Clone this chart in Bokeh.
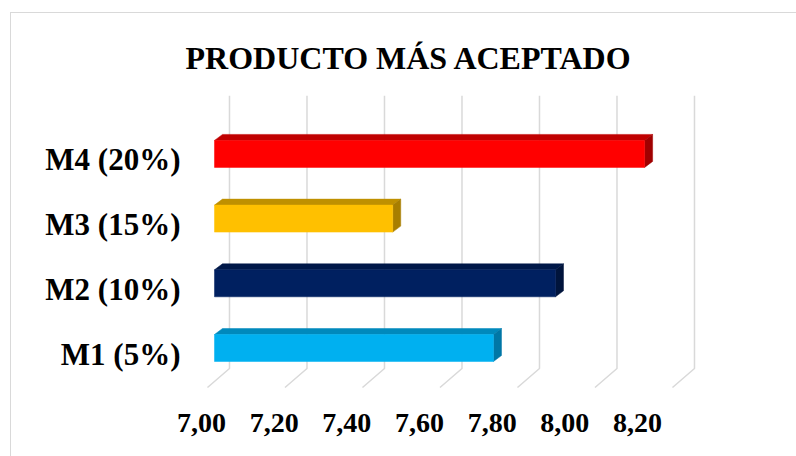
from bokeh.plotting import figure
from bokeh.models import (Range1d, LinearAxis, FixedTicker, CustomJSTickFormatter, Title)
from bokeh.embed import file_html
from bokeh.resources import INLINE

# ---- data ----
categories = ["M1 (5%)", "M2 (10%)", "M3 (15%)", "M4 (20%)"]
values = [7.72, 7.88, 7.46, 8.11]
front_colors = ["#00B0F0", "#002060", "#FFC000", "#FF0000"]
top_colors = ["#0089BC", "#001848", "#BF9000", "#C00000"]
side_colors = ["#0077A6", "#00143C", "#A87E00", "#A00000"]
x_ticks = [7.0, 7.2, 7.4, 7.6, 7.8, 8.0, 8.2]
title_text = "PRODUCTO MÁS ACEPTADO"
base = 7.0

# ---- layout constants (pixels) ----
FW, FH = 565, 300
PX_X = 387.5   # px per unit on x (bar plane)
PX_Y = 64.7    # px per category
x0, y0 = 6.951, 0.266
p = figure(frame_width=FW, frame_height=FH, min_border_left=195, min_border_right=36,
           min_border_top=95, min_border_bottom=61,
           x_range=Range1d(x0, x0 + FW / PX_X), y_range=Range1d(y0, y0 + FH / PX_Y),
           output_backend="svg", toolbar_location=None, x_axis_type=None, y_axis_type=None,
           background_fill_color="white", border_fill_color=None)
p.outline_line_color = None
p.xgrid.visible = False
p.ygrid.visible = False
p.styles = {"background": "linear-gradient(#d9d9d9,#d9d9d9) 10px 12px / 790px 1px no-repeat, "
                          "linear-gradient(#d9d9d9,#d9d9d9) 10px 12px / 1px 450px no-repeat, white"}

# 3D offsets in data units
dx = 8 / PX_X
dy = 6 / PX_Y
back_dx = 15 / PX_X
front_dx = -7 / PX_X
bar_h = 27 / PX_Y

# gridlines (3D walls)
ys_top = y0 + FH / PX_Y
ys_bend = y0 + 27 / PX_Y
ys_floor = y0 + 8 / PX_Y
gx, gy = [], []
for t in x_ticks:
    gx.append([t + back_dx, t + back_dx, t + front_dx])
    gy.append([ys_top, ys_bend, ys_floor])
p.multi_line(gx, gy, line_color="#d9d9d9", line_width=1.5)

# bars
ypos = list(range(1, len(categories) + 1))
top_xs, top_ys, side_xs, side_ys = [], [], [], []
for yc, v in zip(ypos, values):
    t = yc + bar_h / 2
    b = yc - bar_h / 2
    top_xs.append([base, v, v + dx, base + dx])
    top_ys.append([t, t, t + dy, t + dy])
    side_xs.append([v, v + dx, v + dx, v])
    side_ys.append([b, b + dy, t + dy, t])
p.patches(top_xs, top_ys, fill_color=top_colors, line_color=top_colors, line_width=0.5)
p.patches(side_xs, side_ys, fill_color=side_colors, line_color=side_colors, line_width=0.5)
p.hbar(y=ypos, left=base, right=values, height=bar_h, fill_color=front_colors,
       line_color=front_colors, line_width=0.5)

# axes on shifted ranges (label positions)
p.extra_x_ranges = {"lab": Range1d(6.98349, 6.98349 + FW / 363.3)}
p.extra_y_ranges = {"lab": Range1d(0.359, 0.359 + FH / PX_Y)}

xa = LinearAxis(x_range_name="lab", ticker=FixedTicker(ticks=x_ticks),
                formatter=CustomJSTickFormatter(code="return tick.toFixed(2).replace('.', ',');"))
ya = LinearAxis(y_range_name="lab", ticker=FixedTicker(ticks=ypos),
                major_label_overrides={i + 1: c for i, c in enumerate(categories)})
for ax in (xa, ya):
    ax.axis_line_color = None
    ax.major_tick_line_color = None
    ax.minor_tick_line_color = None
    ax.major_label_text_font = "Liberation Serif"
    ax.major_label_text_font_style = "bold"
    ax.major_label_text_color = "black"
xa.major_label_text_font_size = "28px"
xa.major_label_standoff = 12
ya.major_label_text_font_size = "31px"
ya.major_label_standoff = 9
p.add_layout(xa, "below")
p.add_layout(ya, "left")

p.add_layout(Title(text=title_text, align="left", offset=-10, text_font="Liberation Serif",
                   text_font_size="32px", text_font_style="bold", text_color="black",
                   standoff=40), "above")

open("out.html", "w").write(file_html(p, INLINE))
